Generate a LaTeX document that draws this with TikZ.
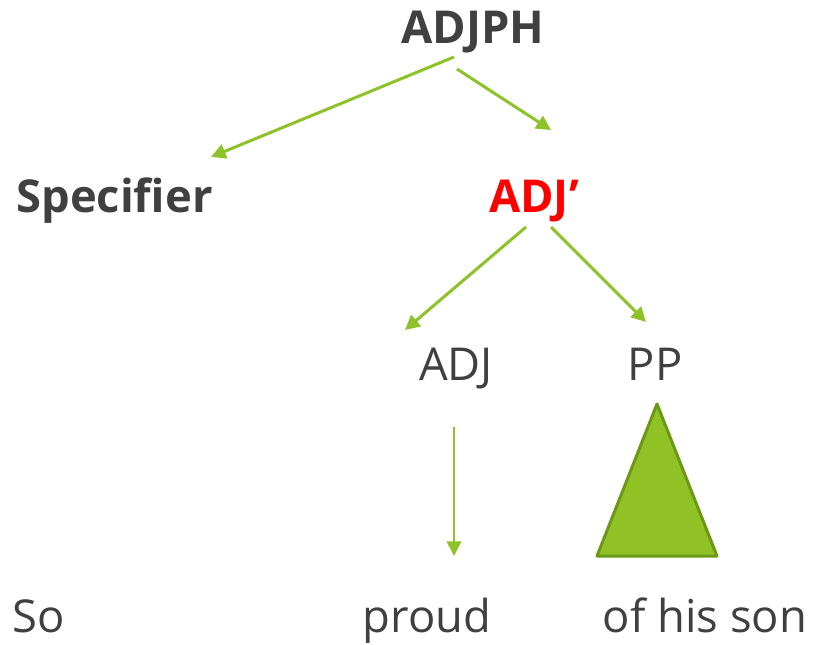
\documentclass[tikz,border=0pt]{standalone}
\usepackage{fontspec}
\setmainfont{Open Sans}
\usepackage{tikz}
\usetikzlibrary{calc, positioning}
\usetikzlibrary{arrows.meta}

\definecolor{treegreen}{RGB}{141,194,40}
\definecolor{treefill}{RGB}{144,194,38}
\definecolor{treeedge}{RGB}{107,152,22}
\definecolor{textgray}{RGB}{64,64,64}

\tikzset{
	label/.style={anchor=base, inner sep=0pt, text=textgray, font=\fontsize{34}{40}\selectfont},
	boldlabel/.style={label, font=\fontsize{34}{40}\selectfont\bfseries},
	branch/.style={draw=treegreen, line width=2.25pt, -{Triangle[length=11pt,width=11pt]}},
	thinbranch/.style={branch, line width=1.5pt}
}

\begin{document}
\begin{tikzpicture}[x=0.75pt,y=0.75pt,yscale=-1,xscale=1]
		\path[use as bounding box] (0,0) rectangle (814,645); %set diagram to 814 by 645

		% Text Node
		\node[boldlabel] (adjph) at (473,44) {ADJPH};
		% Text Node
		\node[boldlabel] (spec) at (114.5,213) {Specifier};
		% Text Node
		\node[boldlabel, text=red] (adjbar) at (534,213) {ADJ’};
		% Text Node
		\node[label] (adj) at (456,380) {ADJ};
		% Text Node
		\node[label] (pp) at (655,380) {PP};
		% Text Node
		\node[label] (so) at (39,632) {So};
		% Text Node
		\node[label] (proud) at (427,632) {proud};
		% Text Node
		\node[label] (ofhisson) at (705,632) {of his son};

		%Straight Lines
		\draw[branch] ($(adjph.base)+(-19,13)$) -- ($(spec.base)+(96.5,-56)$);
		\draw[branch] ($(adjph.base)+(-16,25)$) -- ($(adjbar.base)+(17,-83)$);
		\draw[branch] ($(adjbar.base)+(-8,14)$) -- ($(adj.base)+(-51,-50)$);
		\draw[branch] ($(adjbar.base)+(17,14)$) -- ($(pp.base)+(-9,-58)$);
		\draw[thinbranch] ($(adj.base)+(-2,47)$) -- ($(proud.base)+(27,-76)$);

		%Shape: Triangle
		\draw[draw=treeedge, fill=treefill, line width=2.25pt, line join=round] ($(pp.base)+(2,24)$) -- ($(pp.base)+(-58,176)$) -- ($(pp.base)+(62,176)$) -- cycle;

	\end{tikzpicture}
\end{document}
